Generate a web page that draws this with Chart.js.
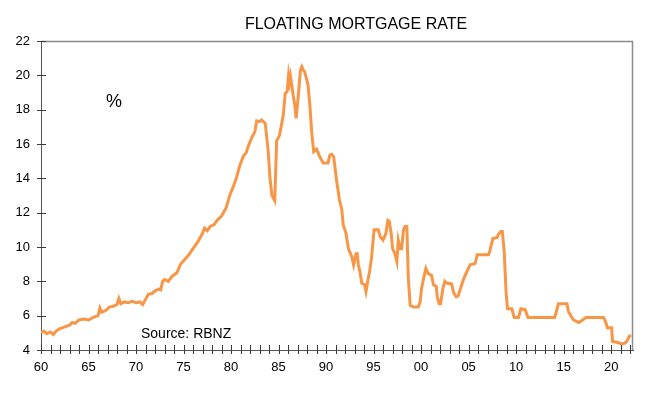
<!DOCTYPE html>
<html>
<head>
<meta charset="utf-8">
<script src="https://cdn.jsdelivr.net/npm/chart.js"></script>
<style>
  html, body { margin: 0; padding: 0; background: #fff; }
</style>
</head>
<body>
<canvas id="rateChart" width="653" height="398"></canvas>
<script>
// Floating mortgage rate (%)
const years = [
  1960.0, 1960.3, 1960.6, 1961.0, 1961.3, 1961.6, 1962.0, 1962.5, 1963.0, 1963.3,
  1963.6, 1964.0, 1964.5, 1965.0, 1965.5, 1966.0, 1966.2, 1966.4, 1966.8, 1967.2,
  1967.6, 1968.0, 1968.2, 1968.4, 1968.8, 1969.2, 1969.6, 1970.0, 1970.4, 1970.7,
  1971.0, 1971.3, 1971.7, 1972.0, 1972.4, 1972.6, 1972.8, 1973.0, 1973.4, 1973.8,
  1974.3, 1974.7, 1975.0, 1975.5, 1976.0, 1976.5, 1977.0, 1977.2, 1977.5, 1977.8,
  1978.2, 1978.6, 1979.0, 1979.5, 1979.8, 1980.0, 1980.3, 1980.6, 1980.95, 1981.3,
  1981.6, 1981.8, 1982.2, 1982.5, 1982.7, 1983.0, 1983.2, 1983.4, 1983.6, 1983.9,
  1984.1, 1984.3, 1984.6, 1984.8, 1985.1, 1985.3, 1985.5, 1985.7, 1985.9, 1986.05,
  1986.15, 1986.25, 1986.4, 1986.55, 1986.7, 1986.85, 1987.1, 1987.3, 1987.45, 1987.6,
  1987.75, 1987.9, 1988.1, 1988.3, 1988.5, 1988.7, 1989.0, 1989.3, 1989.5, 1989.7,
  1990.2, 1990.4, 1990.6, 1990.8, 1991.1, 1991.4, 1991.65, 1991.8, 1992.1, 1992.35,
  1992.7, 1992.9, 1993.15, 1993.25, 1993.4, 1993.6, 1993.75, 1994.05, 1994.2, 1994.35,
  1994.6, 1994.8, 1995.05, 1995.5, 1995.7, 1996.0, 1996.3, 1996.5, 1996.65, 1996.85,
  1997.0, 1997.25, 1997.45, 1997.6, 1997.8, 1997.95, 1998.15, 1998.3, 1998.5, 1998.65,
  1998.85, 1999.2, 1999.7, 1999.9, 2000.05, 2000.3, 2000.5, 2000.75, 2001.1, 2001.3,
  2001.6, 2001.7, 2001.9, 2002.05, 2002.3, 2002.5, 2002.7, 2003.2, 2003.45, 2003.7,
  2003.9, 2004.1, 2004.45, 2004.8, 2005.15, 2005.7, 2005.9, 2007.1, 2007.25, 2007.55,
  2008.0, 2008.15, 2008.4, 2008.55, 2008.75, 2008.95, 2009.1, 2009.55, 2009.8, 2010.25,
  2010.5, 2010.95, 2011.25, 2014.05, 2014.2, 2014.45, 2015.35, 2015.5, 2015.8, 2016.05,
  2016.4, 2016.6, 2017.0, 2017.35, 2019.2, 2019.45, 2019.6, 2020.05, 2020.15, 2020.6,
  2021.1, 2021.45, 2021.65, 2021.9, 2022.1
];
const rates = [
  5.0, 5.1, 4.95, 5.05, 4.9, 5.1, 5.25, 5.35, 5.45, 5.6,
  5.55, 5.75, 5.8, 5.75, 5.9, 6.0, 6.45, 6.2, 6.3, 6.5,
  6.55, 6.65, 7.0, 6.7, 6.8, 6.75, 6.85, 6.75, 6.8, 6.65,
  6.95, 7.25, 7.3, 7.45, 7.55, 7.5, 8.0, 8.1, 8.0, 8.3,
  8.5, 9.0, 9.2, 9.5, 9.9, 10.3, 10.8, 11.1, 10.95, 11.2,
  11.3, 11.6, 11.8, 12.3, 12.9, 13.2, 13.6, 14.1, 14.8, 15.3,
  15.5, 15.85, 16.4, 16.7, 17.35, 17.3, 17.4, 17.3, 17.2, 15.65,
  14.0, 13.0, 12.7, 16.2, 16.5, 17.1, 17.7, 18.95, 19.05, 20.0,
  19.6, 19.95, 19.4, 18.8, 18.3, 17.5, 18.95, 20.3, 20.5, 20.3,
  20.2, 19.9, 19.45, 18.2, 16.6, 15.55, 15.7, 15.3, 15.1, 14.9,
  14.9, 15.35, 15.4, 15.25, 13.9, 12.75, 12.2, 11.3, 10.8, 9.9,
  9.45, 8.95, 9.6, 9.7, 8.95, 8.45, 7.9, 7.8, 7.4, 7.9,
  8.65, 9.45, 11.0, 11.0, 10.6, 10.4, 10.8, 11.55, 11.5, 10.8,
  9.9, 9.6, 9.15, 10.4, 9.9, 9.9, 11.0, 11.2, 11.2, 8.25,
  6.6, 6.5, 6.5, 6.8, 7.6, 8.25, 8.75, 8.45, 8.35, 7.8,
  7.7, 7.1, 6.7, 6.7, 7.6, 8.0, 7.9, 7.85, 7.3, 7.1,
  7.15, 7.5, 8.1, 8.55, 8.95, 9.05, 9.55, 9.55, 9.8, 10.5,
  10.55, 10.75, 10.9, 10.9, 9.7, 7.3, 6.4, 6.4, 5.9, 5.9,
  6.4, 6.35, 5.9, 5.9, 6.15, 6.7, 6.7, 6.25, 5.95, 5.75,
  5.65, 5.6, 5.75, 5.9, 5.9, 5.6, 5.3, 5.3, 4.5, 4.45,
  4.35, 4.4, 4.5, 4.8, 4.85
];
const yTicks = [4, 6, 8, 10, 12, 14, 16, 18, 20, 22];
const xTickYears = [];
for (let y = 1960; y <= 2022; y++) xTickYears.push(y);

const FONT = "'Liberation Sans', Arial, sans-serif";

// frame, crossing tick marks and the free text labels
const decorations = {
  id: "decorations",
  afterDraw(chart) {
    const c = chart.ctx;
    const a = chart.chartArea;
    const xs = chart.scales.x, ys = chart.scales.y;
    c.save();
    // top and right border
    c.strokeStyle = "#8c8c8c";
    c.lineWidth = 1.5;
    c.beginPath();
    c.moveTo(a.left, a.top + 0.5);
    c.lineTo(a.right - 0.5, a.top + 0.5);
    c.lineTo(a.right - 0.5, a.bottom);
    c.stroke();
    // ticks crossing the axes
    c.strokeStyle = "#3a3a3a";
    c.lineWidth = 1;
    c.beginPath();
    xTickYears.forEach(v => {
      const px = Math.round(xs.getPixelForValue(v)) + 0.5;
      c.moveTo(px, a.bottom - 5);
      c.lineTo(px, a.bottom + 4);
    });
    yTicks.forEach(v => {
      const py = Math.round(ys.getPixelForValue(v)) + 0.5;
      c.moveTo(a.left - 4, py);
      c.lineTo(a.left + 5, py);
    });
    c.stroke();
    // texts
    c.fillStyle = "#000";
    c.textBaseline = "middle";
    c.textAlign = "center";
    c.font = "16px " + FONT;
    c.fillText("FLOATING MORTGAGE RATE", 356, 25);
    c.font = "18px " + FONT;
    c.fillText("%", 114, 102);
    c.textAlign = "left";
    c.font = "14px " + FONT;
    c.fillText("Source: RBNZ", 141, 334);
    c.restore();
  }
};

const config = {
  type: "line",
  data: {
    datasets: [{
      label: "Floating mortgage rate",
      data: years.map((x, i) => ({ x: x, y: rates[i] })),
      borderColor: "#F79646",
      borderWidth: 3,
      pointRadius: 0,
      tension: 0,
      fill: false
    }]
  },
  options: {
    responsive: false,
    animation: false,
    devicePixelRatio: 1,
    layout: { padding: { top: 41, right: 20, left: 0, bottom: 0 } },
    plugins: {
      legend: { display: false },
      tooltip: { enabled: false },
      title: { display: false }
    },
    scales: {
      x: {
        type: "linear",
        min: 1960,
        max: 2022.3,
        afterBuildTicks: s => { s.ticks = xTickYears.map(v => ({ value: v })); },
        afterFit: s => { s.height = 48; },
        grid: { display: false },
        border: { display: true, color: "#555", width: 1 },
        ticks: {
          autoSkip: false,
          maxRotation: 0,
          minRotation: 0,
          padding: 2,
          color: "#000",
          font: { family: FONT, size: 13 },
          callback: v => (v % 5 === 0 ? String(v % 100).padStart(2, "0") : "")
        }
      },
      y: {
        min: 4,
        max: 22,
        afterBuildTicks: s => { s.ticks = yTicks.map(v => ({ value: v })); },
        afterFit: s => { s.width = 41; },
        grid: { display: false },
        border: { display: true, color: "#555", width: 1 },
        ticks: {
          padding: 3,
          color: "#000",
          font: { family: FONT, size: 13 }
        }
      }
    }
  },
  plugins: [decorations]
};

const ctx = document.getElementById("rateChart").getContext("2d");
new Chart(ctx, config);
</script>
</body>
</html>
